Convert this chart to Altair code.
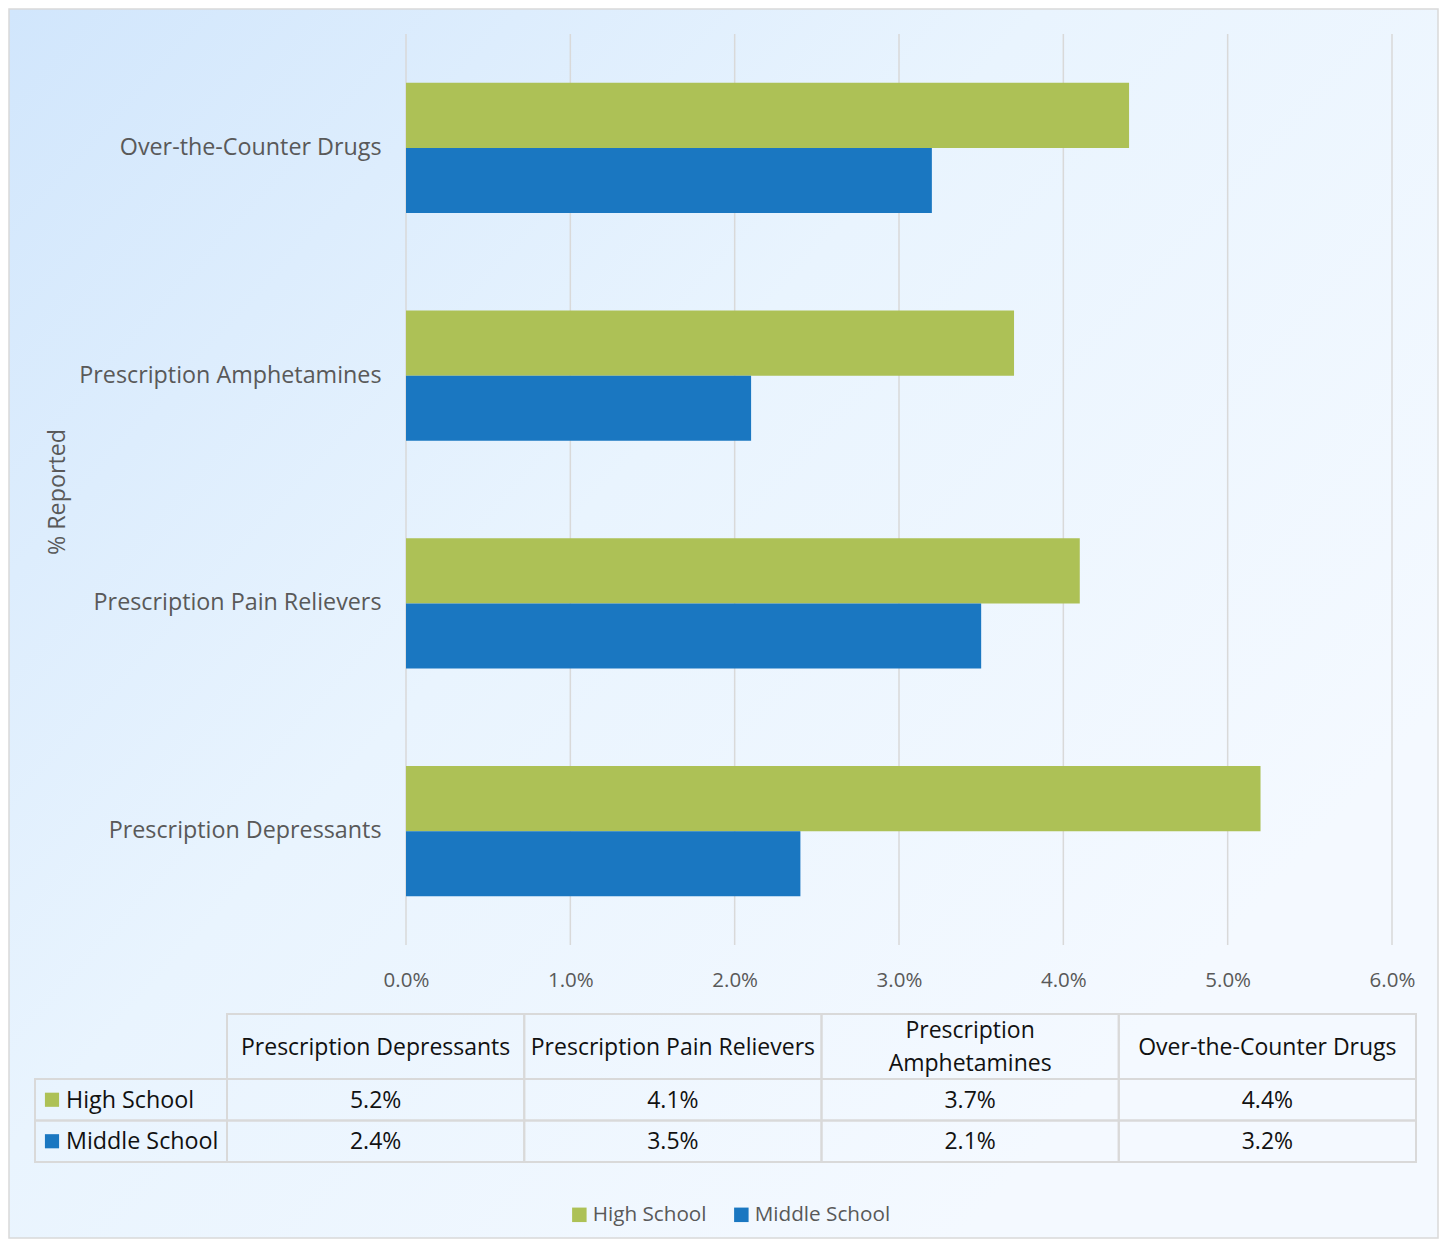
import altair as alt
import pandas as pd

# ---- data ----
categories = ["Prescription Depressants", "Prescription Pain Relievers",
              "Prescription Amphetamines", "Over-the-Counter Drugs"]
header_labels = ["Prescription Depressants", "Prescription Pain Relievers",
                 "Prescription\nAmphetamines", "Over-the-Counter Drugs"]
series = ["High School", "Middle School"]
high_school = [5.2, 4.1, 3.7, 4.4]
middle_school = [2.4, 3.5, 2.1, 3.2]
x_ticks = [0, 1, 2, 3, 4, 5, 6]
colors = ["#ADC156", "#1A77C1"]

W, H = 986, 911
FONT = "Open Sans"
GRAY = "#595959"
LINE = "#d9d9d9"
TXT = "#111111"

rows = []
for s, vals in zip(series, [high_school, middle_school]):
    for c, v in zip(categories, vals):
        rows.append({"category": c, "series": s, "value": v / 100, "label": f"{v:.1f}%"})
df = pd.DataFrame(rows)
hdr = pd.DataFrame({"category": categories, "header": header_labels,
                    "part": ["header"] * len(categories)})
lab = pd.DataFrame({"series": series, "col": ["label"] * len(series)})
ticks = pd.DataFrame({"tick": [t / 100 for t in x_ticks]})

color = alt.Color("series:N", scale=alt.Scale(domain=series, range=colors),
                  legend=alt.Legend(title=None, orient="none", legendX=163, legendY=1170,
                                    direction="horizontal", symbolType="square", symbolSize=210,
                                    symbolStrokeWidth=0, labelFont=FONT, labelFontSize=20.7,
                                    labelColor=GRAY, columnPadding=24, labelOffset=3))

x_scale = alt.Scale(domain=[0, 0.06], nice=False)

# background panel
grad = alt.LinearGradient(gradient="linear",
                          stops=[alt.GradientStop(color="#d1e6fc", offset=0),
                                 alt.GradientStop(color="#e9f4fe", offset=0.5),
                                 alt.GradientStop(color="#f4f9ff", offset=1)],
                          x1=0, y1=0, x2=0.9, y2=0.7)
bg = alt.Chart(pd.DataFrame({"d": [0]})).mark_rect(fill=grad, stroke=LINE, strokeWidth=1.5).encode(
    x=alt.value(-397), x2=alt.value(1032), y=alt.value(-25), y2=alt.value(1204))

grid = alt.Chart(ticks).mark_rule(color=LINE, strokeWidth=1.5).encode(
    x=alt.X("tick:Q", scale=x_scale, axis=None))

bars = alt.Chart(df).mark_bar().encode(
    x=alt.X("value:Q", scale=x_scale,
            axis=alt.Axis(values=[t / 100 for t in x_ticks], format=".1%", title=None,
                          grid=False, domain=False, ticks=False, zindex=1, labelFlush=False,
                          labelFont=FONT, labelFontSize=20.5, labelColor=GRAY, labelPadding=25)),
    y=alt.Y("category:N", sort=categories[::-1],
            scale=alt.Scale(paddingInner=0.429, paddingOuter=0.2145),
            axis=alt.Axis(title="% Reported", domain=False, ticks=False, zindex=1,
                          labelFont=FONT, labelFontSize=23.3, labelColor=GRAY, labelPadding=25,
                          labelLimit=400, titleFont=FONT, titleFontSize=23.3,
                          titleFontWeight="normal", titleColor=GRAY, titleAngle=270,
                          titleX=-349, titleY=H / 2 + 2, titleAlign="center",
                          titleBaseline="middle")),
    yOffset=alt.YOffset("series:N", sort=series, scale=alt.Scale(paddingInner=0, paddingOuter=0)),
    color=color,
)

col_scale = alt.Scale(domain=categories, range=[-179, 1010], paddingInner=0, paddingOuter=0)
hdr_y = alt.Scale(domain=["header"], range=[980, 1045], paddingInner=0, paddingOuter=0)
row_y = alt.Scale(domain=series, range=[1045, 1128], paddingInner=0, paddingOuter=0)
lab_x = alt.Scale(domain=["label"], range=[-371, -179], paddingInner=0, paddingOuter=0)

hdr_cells = alt.Chart(hdr).mark_rect(fill="transparent", stroke=LINE, strokeWidth=2).encode(
    x=alt.X("category:N", scale=col_scale, axis=None),
    y=alt.Y("part:N", scale=hdr_y, axis=None))
hdr_text1 = alt.Chart(hdr).transform_filter(
    "indexof(datum.header, '\\n') < 0").mark_text(font=FONT, fontSize=23, color=TXT,
                                                dy=1).encode(
    x=alt.X("category:N", scale=col_scale, axis=None),
    y=alt.Y("part:N", scale=hdr_y, axis=None),
    text="header:N")
hdr_text2 = alt.Chart(hdr).transform_filter(
    "indexof(datum.header, '\\n') >= 0").mark_text(font=FONT, fontSize=23, color=TXT,
                                                 lineBreak="\n", lineHeight=33, dy=-16).encode(
    x=alt.X("category:N", scale=col_scale, axis=None),
    y=alt.Y("part:N", scale=hdr_y, axis=None),
    text="header:N")

body_cells = alt.Chart(df).mark_rect(fill="transparent", stroke=LINE, strokeWidth=2).encode(
    x=alt.X("category:N", scale=col_scale, axis=None),
    y=alt.Y("series:N", scale=row_y, axis=None))
body_text = alt.Chart(df).mark_text(font=FONT, fontSize=23, color=TXT, dy=1).encode(
    x=alt.X("category:N", scale=col_scale, axis=None),
    y=alt.Y("series:N", scale=row_y, axis=None),
    text="label:N")

lab_cells = alt.Chart(lab).mark_rect(fill="transparent", stroke=LINE, strokeWidth=2).encode(
    x=alt.X("col:N", scale=lab_x, axis=None),
    y=alt.Y("series:N", scale=row_y, axis=None))
lab_sq = alt.Chart(lab).mark_square(size=200, opacity=1, xOffset=-79).encode(
    x=alt.X("col:N", scale=lab_x, axis=None),
    y=alt.Y("series:N", scale=row_y, axis=None),
    color=color)
lab_text = alt.Chart(lab).mark_text(font=FONT, fontSize=23.3, color=TXT, align="left",
                                    dx=-65, dy=1).encode(
    x=alt.X("col:N", scale=lab_x, axis=None),
    y=alt.Y("series:N", scale=row_y, axis=None),
    text="series:N")

chart = alt.layer(bg, grid, bars, hdr_cells, hdr_text1, hdr_text2, body_cells, body_text,
                  lab_cells, lab_sq, lab_text).resolve_scale(
    x="independent", y="independent").properties(
    width=W, height=H, padding=0).configure_view(stroke=None)

chart.save("out.html", embed_options={"renderer": "svg", "actions": False})
